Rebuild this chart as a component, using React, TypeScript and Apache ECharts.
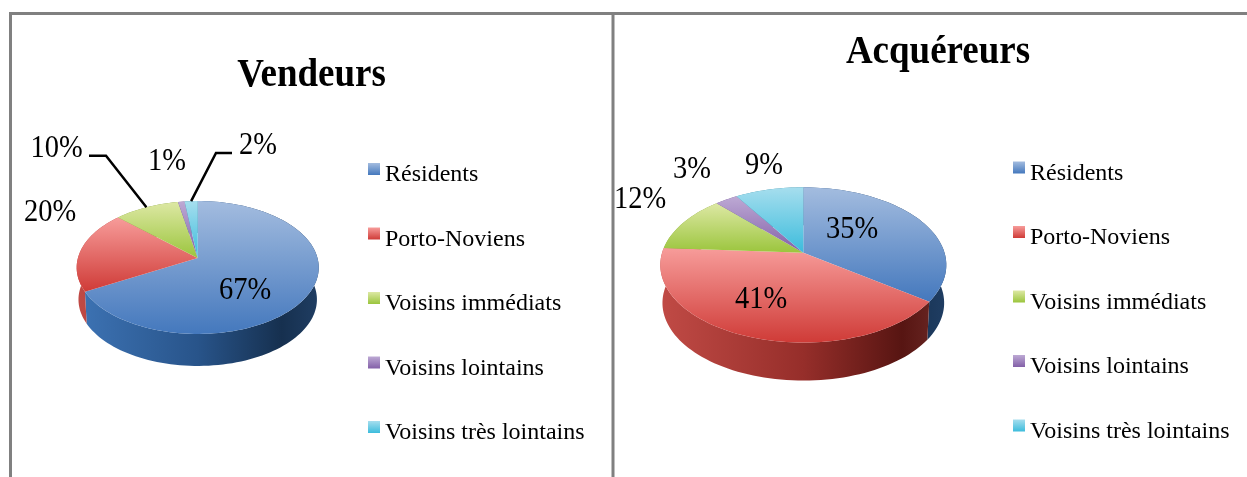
import React, { useEffect, useRef } from "react";
import * as echarts from "echarts";

const categories = ["Résidents", "Porto-Noviens", "Voisins immédiats", "Voisins lointains", "Voisins très lointains"];
const vendeursValues = [67, 20, 10, 1, 2];
const acquereursValues = [35, 41, 12, 3, 9];

const SERIF = '"Liberation Serif", "Times New Roman", serif';

// Colours per category: top-face gradient, then side-wall gradient.
const topColors = [
  ["#a3bcdf", "#4478bd"],
  ["#f79c9a", "#cf3b37"],
  ["#dde8a4", "#9bc53d"],
  ["#bda9d4", "#8360a8"],
  ["#a6deee", "#3cbcdc"],
];
const wallColors = [
  ["#3d73b4", "#28548a", "#16304f", "#1f3d62"],
  ["#c04a45", "#962e2a", "#571512", "#6d2a27"],
  ["#8aa83a", "#6f8a2d", "#4f6420", "#5c7326"],
  ["#7b5a9c", "#5f4480", "#43305c", "#4f3a6a"],
  ["#3a9fbb", "#2c8099", "#1d5a6e", "#25697f"],
];

// Perspective geometry of each 3D pie (apex cx,ay; a,b radii; k perspective; depth of wall).
const vendeursGeom = { cx: 197.7, ay: 258, a: 119.8, b: 65.1, k: 0.1429, depth: 32, shrink: 0.985 };
const acquereursGeom = { cx: 803.3, ay: 252.7, a: 141.2, b: 75.7, k: 0.158, depth: 38, shrink: 0.985 };

// Label centres (px) and optional leader elbows.
const vendeursLabels: number[][] = [[245, 288], [50, 210], [56.7, 146], [167, 159], [258, 143]];
const acquereursLabels: number[][] = [[852, 227], [761, 297], [640, 197], [692, 167], [764, 163]];
const vendeursLeaders: (number[][] | null)[] = [
  null, null,
  [[89, 155.7], [106, 155.7]],
  null,
  [[232, 153], [216, 153]],
];
const acquereursLeaders: (number[][] | null)[] = [null, null, null, null, null];

type Geom = typeof vendeursGeom;

function project(g: Geom, fraction: number): number[] {
  const t = 2 * Math.PI * fraction;
  const u = Math.sin(t);
  const v = Math.cos(t);
  const den = 1 + g.k * v;
  return [g.cx + (g.a * u) / den, g.ay - (g.b * v) / den];
}

function arcPoints(g: Geom, f0: number, f1: number): number[][] {
  const n = Math.max(2, Math.ceil((f1 - f0) * 180));
  const pts: number[][] = [];
  for (let i = 0; i <= n; i++) pts.push(project(g, f0 + ((f1 - f0) * i) / n));
  return pts;
}

function makeSeries(values: number[], g: Geom, labels: number[][], leaders: (number[][] | null)[]) {
  let cum = 0;
  return values.map((value, i) => {
    const start = cum;
    cum += value;
    return {
      type: "custom",
      name: categories[i],
      coordinateSystem: "none",
      silent: true,
      data: [[start, start + value, value]],
      renderItem: (_p: any, api: any) => {
        const f0 = api.value(0) / 100;
        const f1 = api.value(1) / 100;
        const rim = arcPoints(g, f0, f1);
        const lower = rim.map((p) => [g.cx + (p[0] - g.cx) * g.shrink, p[1] + g.depth]).reverse();
        const apex = [g.cx, g.ay];
        const w = wallColors[i];
        const children: any[] = [
          {
            type: "polygon",
            z2: 1,
            shape: { points: rim.concat(lower) },
            style: {
              fill: {
                type: "linear",
                global: true,
                x: g.cx - g.a,
                y: 0,
                x2: g.cx + g.a,
                y2: 0,
                colorStops: [
                  { offset: 0, color: w[0] },
                  { offset: 0.5, color: w[1] },
                  { offset: 0.85, color: w[2] },
                  { offset: 1, color: w[3] },
                ],
              },
            },
          },
          {
            type: "polygon",
            z2: 2,
            shape: { points: [apex].concat(rim) },
            style: {
              fill: {
                type: "linear",
                x: 0,
                y: 0,
                x2: 0,
                y2: 1,
                colorStops: [
                  { offset: 0, color: topColors[i][0] },
                  { offset: 1, color: topColors[i][1] },
                ],
              },
            },
          },
          {
            type: "text",
            z2: 5,
            x: labels[i][0],
            y: labels[i][1],
            scaleY: 1.1,
            style: {
              text: api.value(2) + "%",
              align: "center",
              verticalAlign: "middle",
              font: `28.5px ${SERIF}`,
              fill: "#000",
            },
          },
        ];
        const leader = leaders[i];
        if (leader) {
          children.push({
            type: "polyline",
            z2: 4,
            shape: { points: leader.concat([project(g, (f0 + f1) / 2)]) },
            style: { stroke: "#000", lineWidth: 2.5, fill: "none" },
          });
        }
        return { type: "group", children };
      },
    };
  });
}

function legendOf(left: number, top: number) {
  return {
    orient: "vertical",
    left,
    top,
    padding: 0,
    itemWidth: 12,
    itemHeight: 12,
    itemGap: 32.5,
    selectedMode: false,
    icon: "rect",
    formatter: "{t|{name}}",
    textStyle: {
      fontFamily: SERIF,
      fontSize: 24,
      color: "#000",
      rich: {
        t: { fontFamily: SERIF, fontSize: 24, color: "#000", lineHeight: 24, padding: [8, 0, 0, 0] },
      },
    },
    data: categories.map((name, i) => ({
      name,
      icon: "rect",
      itemStyle: {
        color: {
          type: "linear",
          x: 0,
          y: 0,
          x2: 0,
          y2: 1,
          colorStops: [
            { offset: 0, color: topColors[i][0] },
            { offset: 1, color: topColors[i][1] },
          ],
        },
      },
    })),
  };
}

function titleText(text: string, x: number, y: number) {
  return {
    type: "text",
    x,
    y,
    scaleY: 1.1,
    style: { text, align: "center", verticalAlign: "middle", font: `bold 37px ${SERIF}`, fill: "#000" },
  };
}

export default function App() {
  const ref = useRef<HTMLDivElement>(null);
  useEffect(() => {
    const chart = echarts.init(ref.current!, null, { renderer: "svg" });
    const frame = { stroke: "#808080", lineWidth: 3 };
    chart.setOption({
      animation: false,
      backgroundColor: "#fff",
      legend: [legendOf(368, 153), legendOf(1013, 151.5)],
      graphic: [
        { type: "line", shape: { x1: 9, y1: 13.5, x2: 1247, y2: 13.5 }, style: frame },
        { type: "line", shape: { x1: 10.5, y1: 13, x2: 10.5, y2: 477 }, style: frame },
        { type: "line", shape: { x1: 613, y1: 13, x2: 613, y2: 477 }, style: frame },
        titleText("Vendeurs", 311.5, 72),
        titleText("Acquéreurs", 938, 49),
      ],
      series: [
        ...makeSeries(vendeursValues, vendeursGeom, vendeursLabels, vendeursLeaders),
        ...makeSeries(acquereursValues, acquereursGeom, acquereursLabels, acquereursLeaders),
      ],
    });
    return () => chart.dispose();
  }, []);
  return (
    <div
      ref={ref}
      style={{ position: "absolute", left: 0, top: 0, width: 1247, height: 477, filter: "blur(0.6px)" }}
    />
  );
}
